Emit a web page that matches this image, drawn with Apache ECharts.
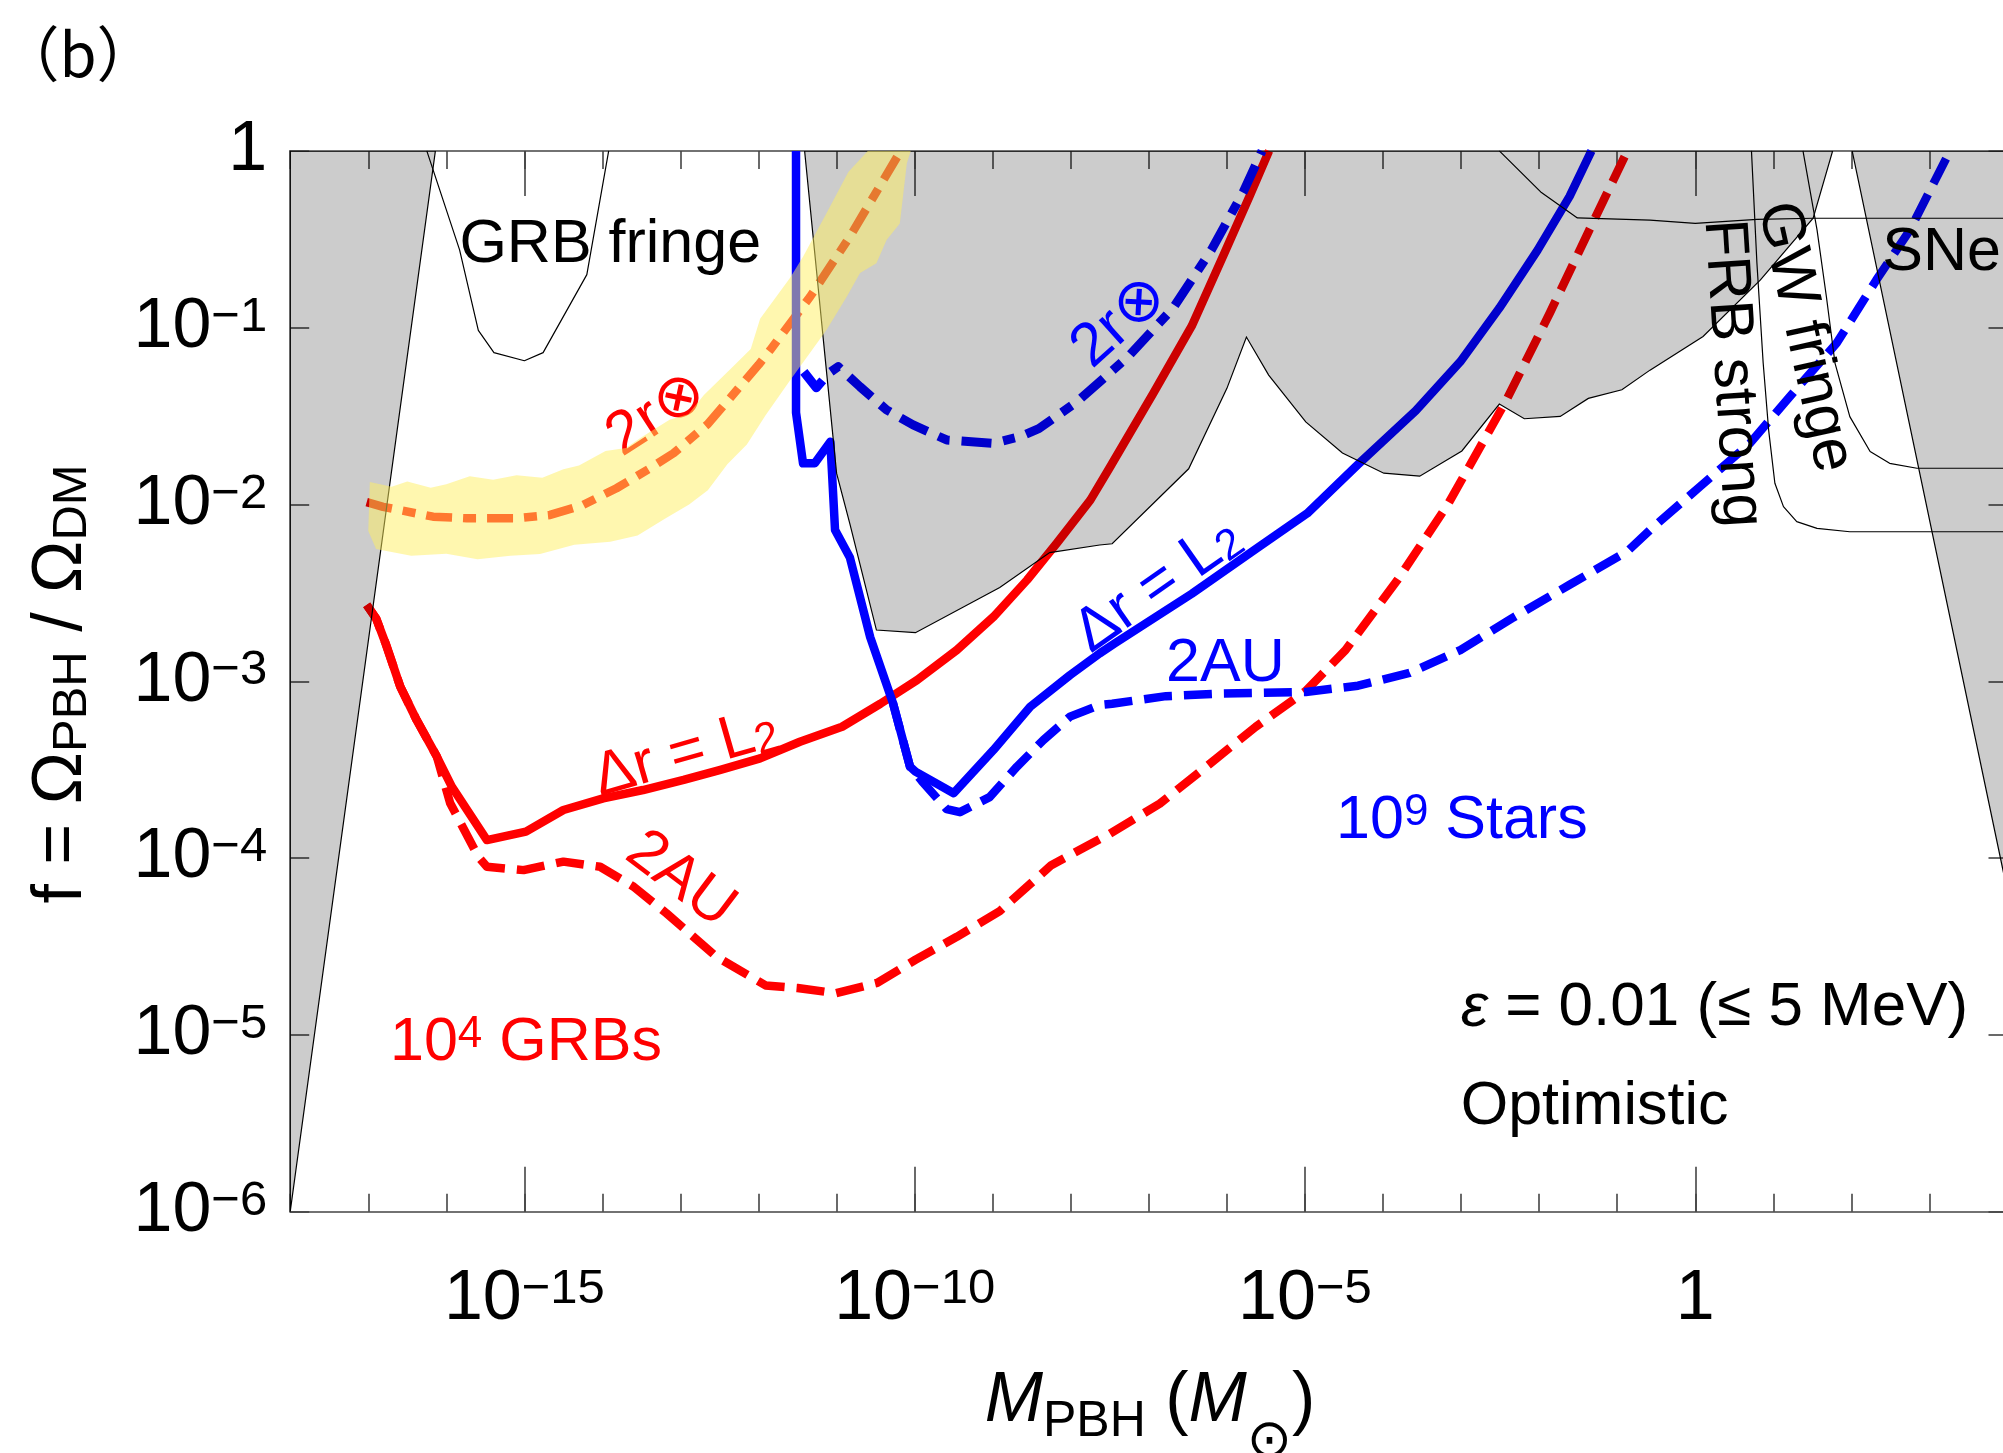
<!DOCTYPE html>
<html><head><meta charset="utf-8">
<script src="https://cdn.jsdelivr.net/npm/echarts@6/dist/echarts.min.js"></script>
<style>html,body{margin:0;padding:0;background:#fff}#c{width:2003px;height:1453px}</style>
</head><body><div id="c"></div>
<script>
// ---- data (x = log10 M_PBH/M_sun, y = log10 f) ----
const xMajorTicks = [-15, -10, -5, 0];

// 10^4 GRBs, Delta r = L2 (red solid)
const redSolidX = [-17.02,-16.9,-16.78,-16.59,-16.38,-16.12,-15.93,-15.48,-14.98,-14.5,-13.99,-13.48,-12.96,-12.5,-11.98,-11.47,-10.93,-10.44,-9.97,-9.46,-8.99,-8.56,-8.18,-7.75,-7.51,-6.94,-6.45,-6.04,-5.71,-5.46];
const redSolidY = [-2.568,-2.644,-2.783,-3.03,-3.219,-3.427,-3.596,-3.898,-3.85,-3.728,-3.662,-3.615,-3.558,-3.502,-3.436,-3.342,-3.257,-3.127,-2.993,-2.823,-2.635,-2.427,-2.219,-1.975,-1.798,-1.369,-0.99,-0.586,-0.257,0];
// 10^4 GRBs, 2AU (red dashed)
const redDashX = [-17.02,-16.9,-16.78,-16.59,-16.38,-16.12,-15.95,-15.59,-15.48,-15.01,-14.5,-14.03,-13.6,-13.18,-12.54,-11.91,-11.5,-11.01,-10.48,-9.99,-9.46,-8.91,-8.25,-7.51,-6.86,-6.2,-5.63,-4.99,-4.48,-3.82,-3.17,-2.43,-1.86,-1.37,-0.87];
const redDashY = [-2.568,-2.644,-2.783,-3.03,-3.219,-3.427,-3.69,-3.992,-4.049,-4.068,-4.02,-4.049,-4.162,-4.312,-4.558,-4.72,-4.735,-4.764,-4.706,-4.575,-4.445,-4.30,-4.04,-3.865,-3.692,-3.46,-3.257,-3.055,-2.823,-2.43,-2.0,-1.419,-0.914,-0.459,0];
// 10^4 GRBs, 2 r_earth (red dash-dot)
const redDashDotX = [-17.02,-16.81,-16.17,-15.74,-15.10,-14.67,-14.25,-13.82,-13.39,-13.09,-12.65,-12.0,-11.85,-11.34,-10.83,-10.21,-10.18];
const redDashDotY = [-1.987,-2.013,-2.069,-2.078,-2.078,-2.059,-2.003,-1.908,-1.795,-1.71,-1.545,-1.21,-1.126,-0.825,-0.485,-0.023,0];
// 10^9 stars, Delta r = L2 (blue solid)
const blueSolidX = [-11.52,-11.52,-11.43,-11.28,-11.08,-11.02,-10.83,-10.57,-10.28,-10.06,-9.99,-9.5,-8.99,-8.52,-8.01,-7.63,-7.43,-6.45,-5.63,-4.97,-4.32,-3.58,-3.01,-2.51,-2.02,-1.61,-1.33];
const blueSolidY = [0,-1.48,-1.767,-1.767,-1.645,-2.144,-2.3,-2.75,-3.12,-3.483,-3.511,-3.633,-3.388,-3.144,-2.965,-2.842,-2.783,-2.505,-2.252,-2.05,-1.773,-1.469,-1.192,-0.889,-0.561,-0.257,0];
// 10^9 stars, 2AU (blue dashed)
const blueDashX = [-10.28,-10.06,-9.91,-9.59,-9.42,-9.04,-8.69,-8.35,-8.01,-7.63,-7.47,-6.78,-6.04,-4.99,-4.32,-3.66,-3.01,-2.35,-1.61,-0.87,-0.58,0.06,0.70,1.21,1.81,2.32,2.75,3.264];
const blueDashY = [-3.12,-3.483,-3.563,-3.723,-3.74,-3.655,-3.483,-3.332,-3.2,-3.134,-3.127,-3.084,-3.069,-3.06,-3.025,-2.953,-2.823,-2.644,-2.454,-2.265,-2.144,-1.899,-1.654,-1.39,-1.088,-0.73,-0.447,0];
// 10^9 stars, 2 r_earth (blue dash-dot)
const blueDashDotX = [-11.42,-11.26,-11.1,-10.98,-10.7,-10.36,-10.02,-9.59,-8.99,-8.65,-8.41,-7.92,-7.27,-6.69,-6.2,-5.79,-5.55];
const blueDashDotY = [-1.25,-1.34,-1.258,-1.22,-1.334,-1.465,-1.55,-1.635,-1.654,-1.616,-1.571,-1.419,-1.166,-0.889,-0.561,-0.232,0];
// yellow scatter band around the red dash-dot curve
const bandUpX = [-16.98,-16.7,-16.5,-16.2,-16.0,-15.7,-15.4,-15.1,-14.77,-14.5,-14.3,-13.96,-13.7,-13.5,-13.14,-12.9,-12.7,-12.32,-12.1,-11.98,-11.6,-11.43,-11.13,-10.85,-10.6];
const bandUpY = [-1.873,-1.90,-1.87,-1.905,-1.886,-1.84,-1.86,-1.835,-1.848,-1.80,-1.78,-1.697,-1.68,-1.62,-1.52,-1.49,-1.38,-1.217,-1.12,-0.95,-0.72,-0.598,-0.353,-0.12,0];
const bandLoX = [-10.05,-10.1,-10.19,-10.36,-10.49,-10.7,-10.87,-11.13,-11.34,-11.6,-11.91,-12.15,-12.4,-12.65,-12.89,-13.2,-13.55,-13.9,-14.36,-14.8,-15.18,-15.6,-16.0,-16.45,-16.9,-17.0];
const bandLoY = [0,-0.07,-0.41,-0.504,-0.635,-0.69,-0.825,-1.013,-1.141,-1.30,-1.495,-1.66,-1.773,-1.92,-2.0,-2.08,-2.176,-2.21,-2.227,-2.28,-2.29,-2.31,-2.278,-2.29,-2.252,-2.15];
// excluded regions (gray)
const grayLeftX = [-18,-16.14,-18];
const grayLeftY = [0,0,-6];
const grayMidX = [-11.41,-11.0,-10.83,-10.49,-9.99,-8.91,-8.27,-7.63,-7.47,-6.49,-6.0,-5.75,-5.465,-4.99,-4.52,-3.99,-3.53,-2.99,-2.51,-2.19,-1.73,-1.37,-0.94,-0.58,0.10,0.835,1.51,1.76];
const grayMidY = [0,-1.824,-2.11,-2.71,-2.725,-2.47,-2.272,-2.229,-2.222,-1.798,-1.343,-1.053,-1.268,-1.533,-1.709,-1.823,-1.84,-1.697,-1.432,-1.515,-1.502,-1.40,-1.351,-1.24,-1.05,-0.73,-0.381,0];
const graySNeX = [2.01,4,4];
const graySNeY = [0,0,-4.19];
// forecast outlines (thin black)
const grbFringeX = [-16.25,-15.83,-15.59,-15.39,-15.0,-14.76,-14.2,-13.92];
const grbFringeY = [0,-0.56,-1.015,-1.141,-1.187,-1.141,-0.70,0];
const frbFringeX = [-2.51,-1.98,-1.51,-0.58,0.0,0.79,1.51,4];
const frbFringeY = [0,-0.232,-0.379,-0.391,-0.41,-0.387,-0.381,-0.381];
const frbStrongX = [0.72,0.79,0.87,0.94,1.02,1.13,1.30,1.56,1.98,4];
const frbStrongY = [0,-0.636,-1.2,-1.579,-1.88,-2.012,-2.097,-2.135,-2.154,-2.154];
const gwFringeX = [1.38,1.56,1.68,1.79,1.98,2.24,2.49,2.84,4];
const gwFringeY = [0,-0.447,-0.825,-1.2,-1.503,-1.7,-1.767,-1.795,-1.795];

// ---- chart ----
const FONT = "'Liberation Sans', 'DejaVu Sans', Arial, sans-serif";
const RED = '#ff0000', BLUE = '#0000ff';
const LW = 8.5;
const zip = (xs, ys) => xs.map((x, i) => [x, ys[i]]);

function lineSeries(xs, ys, color, width, type, z) {
  return { type: 'line', data: zip(xs, ys), symbol: 'none', silent: true, clip: true, z: z,
    lineStyle: { color: color, width: width, type: type, cap: 'butt', join: 'round' } };
}
function polySeries(xs, ys, fill, stroke, z) {
  return { type: 'custom', silent: true, clip: true, z: z, data: [[xs[0], ys[0]]],
    renderItem: function (params, api) {
      const pts = xs.map((x, i) => api.coord([x, ys[i]]));
      return { type: 'polygon', shape: { points: pts },
        style: { fill: fill, stroke: stroke || 'none', lineWidth: 1.2 } };
    } };
}
function tickFmt(v) {
  if (Math.abs(v) < 1e-9) return '{b|1}';
  return '{b|10}{s|\u2212' + Math.round(-v) + '}';
}
const tickRich = {
  b: { fontSize: 70, lineHeight: 70, fontFamily: FONT, color: '#000' },
  s: { fontSize: 49, lineHeight: 28, verticalAlign: 'top', fontFamily: FONT, color: '#000' }
};
const axisLineStyle = { color: '#444', width: 1.6 };

const chart = echarts.init(document.getElementById('c'), null, { renderer: 'canvas' });
const xBase = { type: 'value', min: -18, max: 4, splitLine: { show: false } };
const yBase = { type: 'value', min: -6, max: 0, interval: 1, splitLine: { show: false } };

chart.setOption({
  animation: false,
  backgroundColor: '#fff',
  grid: { left: 290.2, top: 150.9, right: -4.5, bottom: 241.3, containLabel: false, outerBoundsMode: 'none' },
  xAxis: [
    Object.assign({}, xBase, { position: 'bottom', interval: 1,
      axisLine: { show: true, onZero: false, lineStyle: axisLineStyle },
      axisTick: { show: true, inside: true, length: 18, lineStyle: axisLineStyle },
      axisLabel: { show: false } }),
    Object.assign({}, xBase, { position: 'bottom',
      axisLine: { show: false, onZero: false },
      axisTick: { show: true, inside: true, length: 45, customValues: xMajorTicks, lineStyle: axisLineStyle },
      axisLabel: { show: true, customValues: xMajorTicks, margin: 53, formatter: tickFmt, rich: tickRich } }),
    Object.assign({}, xBase, { position: 'top', interval: 1,
      axisLine: { show: true, onZero: false, lineStyle: axisLineStyle },
      axisTick: { show: true, inside: true, length: 18, lineStyle: axisLineStyle },
      axisLabel: { show: false } }),
    Object.assign({}, xBase, { position: 'top',
      axisLine: { show: false, onZero: false },
      axisTick: { show: true, inside: true, length: 45, customValues: xMajorTicks, lineStyle: axisLineStyle },
      axisLabel: { show: false } })
  ],
  yAxis: [
    Object.assign({}, yBase, { position: 'left',
      axisLine: { show: true, onZero: false, lineStyle: axisLineStyle },
      axisTick: { show: true, inside: true, length: 19, lineStyle: axisLineStyle },
      axisLabel: { show: true, margin: 23, formatter: tickFmt, rich: tickRich } }),
    Object.assign({}, yBase, { position: 'right',
      axisLine: { show: true, onZero: false, lineStyle: axisLineStyle },
      axisTick: { show: true, inside: true, length: 19, lineStyle: axisLineStyle },
      axisLabel: { show: false } })
  ],
  series: [
    lineSeries(redDashX, redDashY, RED, LW, [28, 12], 2),
    lineSeries(redSolidX, redSolidY, RED, LW, 'solid', 2),
    lineSeries(redDashDotX, redDashDotY, RED, LW, [26, 11, 13, 11], 2),
    lineSeries(blueDashX, blueDashY, BLUE, LW, [28, 12], 2),
    lineSeries(blueSolidX, blueSolidY, BLUE, LW, 'solid', 2),
    lineSeries(blueDashDotX, blueDashDotY, BLUE, LW + 0.5, [30, 12, 12, 12], 2),
    polySeries(grayLeftX, grayLeftY, 'rgba(0,0,0,0.2)', '#000', 3),
    polySeries(grayMidX, grayMidY, 'rgba(0,0,0,0.2)', '#000', 3),
    polySeries(graySNeX, graySNeY, 'rgba(0,0,0,0.2)', '#000', 3),
    polySeries(bandUpX.concat(bandLoX), bandUpY.concat(bandLoY), 'rgba(255,240,96,0.5)', null, 4),
    lineSeries(grbFringeX, grbFringeY, '#000', 1.2, 'solid', 5),
    lineSeries(frbFringeX, frbFringeY, '#000', 1.2, 'solid', 5),
    lineSeries(frbStrongX, frbStrongY, '#000', 1.2, 'solid', 5),
    lineSeries(gwFringeX, gwFringeY, '#000', 1.2, 'solid', 5)
  ]
});

// ---- annotations (anchored in data coordinates) ----
const annotations = [
  { t: 'GRB fringe', p: [-13.90, -0.535], r: 0, c: '#000' },
  { t: '2r\u2297', p: [-13.30, -1.49], r: 33, c: RED, z: 3.5 },
  { t: '2r\u2297', p: [-7.37, -0.967], r: 42, c: BLUE },
  { t: '{m|\u0394r = L}{d|2}', p: [-12.93, -3.41], r: 16, c: RED },
  { t: '2AU', p: [-13.0, -4.123], r: -37, c: RED },
  { t: '{m|10}{u|4}{m| GRBs}', p: [-14.98, -5.046], r: 0, c: RED },
  { t: '{m|\u0394r = L}{d|2}', p: [-6.88, -2.46], r: 35, c: BLUE },
  { t: '2AU', p: [-6.02, -2.902], r: 0, c: BLUE },
  { t: '{m|10}{u|9}{m| Stars}', p: [-2.99, -3.79], r: 0, c: BLUE },
  { t: '{i|\u03b5}{m| = 0.01 (\u2264 5 MeV)}', p: [-3.005, -4.85], r: 0, c: '#000', a: 'left', s: 62 },
  { t: 'Optimistic', p: [-3.005, -5.408], r: 0, c: '#000', a: 'left' },
  { t: 'GW fringe', p: [1.40, -1.053], r: -77.6, c: '#000' },
  { t: 'FRB strong', p: [0.47, -1.258], r: -86.4, c: '#000' },
  { t: 'SNe', p: [3.157, -0.579], r: 0, c: '#000' }
];
function richFor(c, size) {
  return {
    m: { fontSize: size, lineHeight: size, fontFamily: FONT, fill: c, color: c },
    i: { fontSize: size, lineHeight: size, fontFamily: FONT, fontStyle: 'italic', fill: c, color: c },
    d: { fontSize: 43, lineHeight: 40, verticalAlign: 'bottom', fontFamily: FONT, fill: c, color: c },
    u: { fontSize: 44, lineHeight: 28, verticalAlign: 'top', fontFamily: FONT, fill: c, color: c }
  };
}
const graphics = annotations.map(function (a) {
  const px = chart.convertToPixel({ xAxisIndex: 0, yAxisIndex: 0 }, a.p);
  const size = a.s || 61;
  return { type: 'text', x: px[0], y: px[1], rotation: a.r * Math.PI / 180, z: a.z || 100, silent: true,
    style: { text: a.t, fill: a.c, fontSize: size, fontFamily: FONT, align: a.a || 'center',
      verticalAlign: 'middle', rich: richFor(a.c, size) } };
});
// panel tag
graphics.push({ type: 'text', x: 78, y: 54, z: 100, silent: true,
  style: { text: '\uff08b\uff09', fill: '#000', fontSize: 60,
    fontFamily: "'Noto Sans CJK SC', 'Noto Sans CJK JP', sans-serif", align: 'center', verticalAlign: 'middle' } });
// x-axis title, assembled from measured pieces (sub/superscript offsets)
(function () {
  const ctx = document.createElement('canvas').getContext('2d');
  const parts = [
    { t: 'M', size: 70, style: 'italic', dy: 0 },
    { t: 'PBH', size: 50, style: 'normal', dy: 20 },
    { t: ' (', size: 70, style: 'normal', dy: 0 },
    { t: 'M', size: 70, style: 'italic', dy: 0 },
    { t: '\u2299', size: 54, style: 'normal', dy: 40 },
    { t: ')', size: 70, style: 'normal', dy: 0 }
  ];
  let total = 0;
  parts.forEach(function (p) {
    ctx.font = p.style + ' ' + p.size + 'px ' + FONT;
    p.w = ctx.measureText(p.t).width; total += p.w;
  });
  let x = 1150 - total / 2;
  const yc = 1402;
  parts.forEach(function (p) {
    graphics.push({ type: 'text', x: x, y: yc + p.dy, z: 100, silent: true,
      style: { text: p.t, fill: '#000', fontSize: p.size, fontStyle: p.style, fontFamily: FONT,
        align: 'left', verticalAlign: 'middle' } });
    x += p.w;
  });
})();
// y-axis title
graphics.push({ type: 'text', x: 62, y: 684, rotation: Math.PI / 2, z: 100, silent: true,
  style: { text: '{m|f = \u03a9}{d|PBH}{m| / \u03a9}{d|DM}', align: 'center', verticalAlign: 'middle', fill: '#000',
    fontSize: 70, fontFamily: FONT,
    rich: {
      m: { fontSize: 70, lineHeight: 70, fontFamily: FONT, fill: '#000' },
      d: { fontSize: 49, lineHeight: 31, verticalAlign: 'bottom', fontFamily: FONT, fill: '#000' }
    } } });
chart.setOption({ graphic: graphics });
</script></body></html>
